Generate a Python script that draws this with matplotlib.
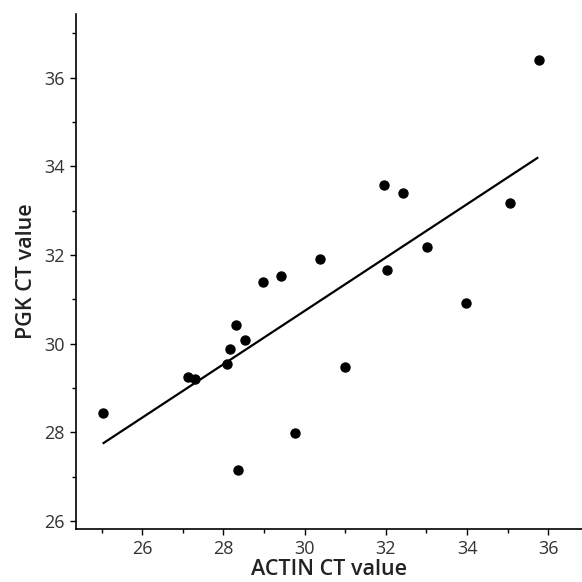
import numpy as np
import matplotlib
matplotlib.use("Agg")
import matplotlib.pyplot as plt
from matplotlib.ticker import MultipleLocator

plt.rcParams['font.family'] = ['Open Sans', 'DejaVu Sans']

# ACTIN CT vs PGK CT values
actin_ct = [25.04, 27.13, 27.29, 28.08, 28.15, 28.32, 28.52, 28.35, 28.97, 29.42,
            29.77, 30.39, 31.00, 31.96, 32.02, 32.42, 33.02, 33.98, 35.06, 35.76]
pgk_ct = [28.44, 29.24, 29.20, 29.55, 29.88, 30.43, 30.09, 27.14, 31.39, 31.53,
          27.99, 31.90, 29.48, 33.58, 31.66, 33.39, 32.18, 30.92, 33.18, 36.41]

# regression line end points
fit_x = [25.05, 35.73]
fit_y = [27.76, 34.19]

fig = plt.figure(figsize=(5.82, 5.82), dpi=100)
ax = fig.add_axes([0.1306, 0.0911, 0.8694, 0.885])

ax.scatter(actin_ct, pgk_ct, s=42, color='black', zorder=3)
ax.plot(fit_x, fit_y, color='black', lw=1.6)

ax.set_xlim(24.37, 36.83)
ax.set_ylim(25.82, 37.44)
ax.xaxis.set_major_locator(MultipleLocator(2))
ax.xaxis.set_minor_locator(MultipleLocator(1))
ax.yaxis.set_major_locator(MultipleLocator(2))
ax.yaxis.set_minor_locator(MultipleLocator(1))

ax.spines['top'].set_visible(False)
ax.spines['right'].set_visible(False)
for s in ['left', 'bottom']:
    ax.spines[s].set_linewidth(1.2)

ax.tick_params(which='major', length=4, width=1, labelsize=13, labelcolor='#333333', pad=4)
ax.tick_params(which='minor', length=3, width=1)

ax.set_xlabel('ACTIN CT value', fontsize=15.5, fontweight='semibold', color='#222222', labelpad=1)
ax.set_ylabel('PGK CT value', fontsize=15.5, fontweight='semibold', color='#222222', labelpad=5)

fig.savefig('out.png', dpi=100)
